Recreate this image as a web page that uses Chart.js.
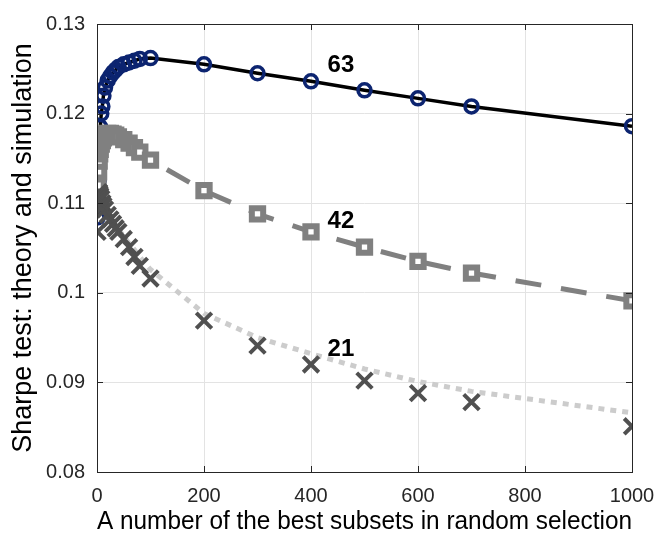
<!DOCTYPE html>
<html>
<head>
<meta charset="utf-8">
<script src="https://cdn.jsdelivr.net/npm/chart.js@4/dist/chart.umd.min.js"></script>
<style>
  html, body { margin: 0; padding: 0; background: #fff; }
  #wrap { width: 656px; height: 535px; }
</style>
</head>
<body>
<div id="wrap"><canvas id="chart1" width="656" height="535"></canvas></div>
<script>
// x values: number of the best subsets
const subsets = [1, 2, 3, 4, 5, 6, 8, 10, 12, 15, 20, 25, 30, 35, 40, 50, 60, 70, 80, 100, 200, 300, 400, 500, 600, 700, 1000];

// 63 - circles on the black line
const sharpe63 = [0.1084, 0.1100, 0.1125, 0.1150, 0.1170, 0.1185, 0.1200, 0.1208, 0.1220, 0.1229, 0.1237, 0.1242, 0.1246, 0.1249, 0.1252, 0.1255, 0.1257, 0.1259, 0.1261, 0.1262, 0.1255, 0.1245, 0.1236, 0.1226, 0.1217, 0.1208, 0.1186];
// 42 - squares on the dashed line
const sharpe42 = [0.1105, 0.1120, 0.1135, 0.1147, 0.1155, 0.1160, 0.1166, 0.1170, 0.1173, 0.1176, 0.1178, 0.1178, 0.1177, 0.1176, 0.1174, 0.1171, 0.1167, 0.1162, 0.1157, 0.1148, 0.1114, 0.1088, 0.1068, 0.1051, 0.1035, 0.1022, 0.0991];
// 21 - theory (dotted) and simulation (crosses)
const theory21 = [0.1110, 0.1114, 0.1114, 0.1113, 0.1112, 0.1110, 0.1107, 0.1104, 0.1101, 0.1097, 0.1091, 0.1085, 0.1080, 0.1075, 0.1071, 0.1063, 0.1055, 0.1048, 0.1040, 0.1026, 0.0977, 0.0950, 0.0932, 0.0915, 0.0901, 0.0890, 0.0866];
const sim21 = [0.1068, 0.1105, 0.1112, 0.1112, 0.1110, 0.1108, 0.1105, 0.1100, 0.1097, 0.1093, 0.1087, 0.1082, 0.1077, 0.1072, 0.1068, 0.1060, 0.1051, 0.1040, 0.1030, 0.1016, 0.0969, 0.0941, 0.0920, 0.0902, 0.0888, 0.0878, 0.0851];

const xTicks = [0, 200, 400, 600, 800, 1000];
const xTickLabels = ['0', '200', '400', '600', '800', '1000'];
const yTicks = [0.08, 0.09, 0.10, 0.11, 0.12, 0.13];
const yTickLabels = ['0.08', '0.09', '0.1', '0.11', '0.12', '0.13'];

// series labels placed next to the curves
const curveLabels = ['63', '42', '21'];
const curveLabelX = [456, 456, 456];
const curveLabelY = [0.1254, 0.1080, 0.0937];

function pts(ys) {
    return subsets.map((x, i) => ({x: x, y: ys[i]}));
}

const axisColor = '#262626';
const fontFam = '"Liberation Sans", Arial, sans-serif';

// frame with inward ticks, like a matlab box
const framePlugin = {
    id: 'frame',
    afterDatasetsDraw(chart) {
        const {ctx, chartArea: a, scales} = chart;
        ctx.save();
        ctx.strokeStyle = axisColor;
        ctx.lineWidth = 1;
        ctx.strokeRect(a.left + 0.5, a.top + 0.5, a.right - a.left, a.bottom - a.top);
        ctx.beginPath();
        xTicks.forEach(v => {
            const px = Math.round(scales.x.getPixelForValue(v)) + 0.5;
            ctx.moveTo(px, a.bottom); ctx.lineTo(px, a.bottom - 6);
            ctx.moveTo(px, a.top); ctx.lineTo(px, a.top + 6);
        });
        yTicks.forEach(v => {
            const py = Math.round(scales.y.getPixelForValue(v)) + 0.5;
            ctx.moveTo(a.left, py); ctx.lineTo(a.left + 6, py);
            ctx.moveTo(a.right, py); ctx.lineTo(a.right - 6, py);
        });
        ctx.stroke();
        ctx.restore();
    },
    afterDraw(chart) {
        const {ctx, scales} = chart;
        ctx.save();
        ctx.fillStyle = '#000';
        ctx.font = 'bold 24px ' + fontFam;
        ctx.textAlign = 'center';
        ctx.textBaseline = 'middle';
        curveLabels.forEach((t, i) => {
            ctx.fillText(t, scales.x.getPixelForValue(curveLabelX[i]), scales.y.getPixelForValue(curveLabelY[i]));
        });
        ctx.restore();
    }
};

const ctx1 = document.getElementById('chart1').getContext('2d');
const myChart = new Chart(ctx1, {
    type: 'scatter',
    data: {
        datasets: [
            {
                label: '63',
                data: pts(sharpe63),
                showLine: true,
                borderColor: '#000000',
                borderWidth: 3.5,
                pointStyle: 'circle',
                pointRadius: 6.5,
                pointBorderWidth: 3.5,
                pointBorderColor: '#0c2470',
                pointBackgroundColor: 'rgba(0,0,0,0)',
                order: 3
            },
            {
                label: '42',
                data: pts(sharpe42),
                showLine: true,
                borderColor: '#808080',
                borderWidth: 5,
                borderDash: [26, 20],
                pointStyle: 'rect',
                pointRadius: 8,
                pointBorderWidth: 6,
                pointBorderColor: '#808080',
                pointBackgroundColor: '#ffffff',
                order: 2
            },
            {
                label: '21 theory',
                data: pts(theory21),
                showLine: true,
                borderColor: '#cccccc',
                borderWidth: 5,
                borderDash: [6, 6],
                pointRadius: 0,
                order: 1
            },
            {
                label: '21',
                data: pts(sim21),
                showLine: false,
                pointStyle: 'crossRot',
                pointRadius: 11,
                pointBorderWidth: 4,
                pointBorderColor: '#505050',
                order: 0
            }
        ]
    },
    options: {
        responsive: false,
        animation: false,
        layout: {padding: {top: 17, right: 0, left: 0, bottom: 0}},
        plugins: {
            legend: {display: false},
            tooltip: {enabled: false}
        },
        scales: {
            x: {
                type: 'linear',
                min: 0,
                max: 1000,
                afterBuildTicks: s => { s.ticks = xTicks.map(v => ({value: v})); },
                afterFit: s => { s.height = 63; s.paddingRight = 24; s.paddingLeft = 0; },
                grid: {color: '#e3e3e3', drawTicks: false},
                border: {display: false},
                ticks: {
                    color: axisColor,
                    padding: 12,
                    maxRotation: 0,
                    font: {family: fontFam, size: 20},
                    callback: (v, i) => xTickLabels[i]
                },
                title: {
                    display: true,
                    text: 'A number of the best subsets in random selection',
                    color: '#000',
                    padding: {top: 0, bottom: -2},
                    font: {family: fontFam, size: 25}
                }
            },
            y: {
                type: 'linear',
                min: 0.08,
                max: 0.13,
                afterBuildTicks: s => { s.ticks = yTicks.map(v => ({value: v})); },
                afterFit: s => { s.width = 97; },
                grid: {color: '#e3e3e3', drawTicks: false},
                border: {display: false},
                ticks: {
                    color: axisColor,
                    padding: 12,
                    font: {family: fontFam, size: 20},
                    callback: (v, i) => yTickLabels[i]
                },
                title: {
                    display: true,
                    text: 'Sharpe test: theory and simulation',
                    color: '#000',
                    padding: {top: 7, bottom: 0},
                    font: {family: fontFam, size: 27}
                }
            }
        }
    },
    plugins: [framePlugin]
});
</script>
</body>
</html>
